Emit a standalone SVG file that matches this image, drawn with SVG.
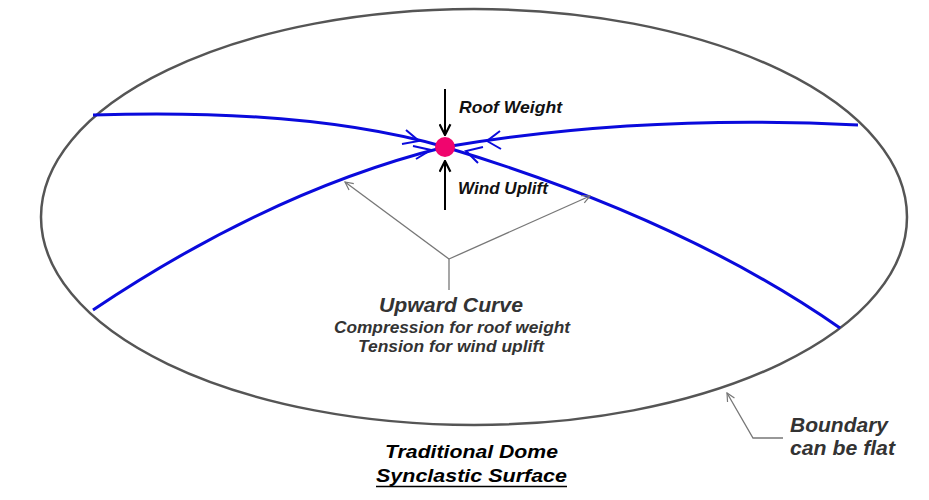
<svg xmlns="http://www.w3.org/2000/svg" width="929" height="500" viewBox="0 0 929 500">
<defs>
<marker id="blk" viewBox="0 0 12 12" refX="11" refY="6" markerWidth="13" markerHeight="13" markerUnits="userSpaceOnUse" orient="auto">
<path d="M1,1 L11,6 L1,11" fill="none" stroke="#000" stroke-width="2"/>
</marker>
<marker id="gry" viewBox="0 0 10 10" refX="9" refY="5" markerWidth="10" markerHeight="10" markerUnits="userSpaceOnUse" orient="auto">
<path d="M1,1 L9,5 L1,9" fill="none" stroke="#777" stroke-width="1.2"/>
</marker>
</defs>
<style>
.bnd{fill:none;stroke:#555;stroke-width:2.5}
.blue{fill:none;stroke:#0a0adc;stroke-width:3}
.chev{fill:none;stroke:#0a0adc;stroke-width:2}
.force{stroke:#000;stroke-width:2;fill:none}
.lead{stroke:#777;stroke-width:1.3;fill:none}
.lbl{font-family:"Liberation Sans",Arial,sans-serif;font-weight:bold;font-style:italic}
</style>
<rect width="929" height="500" fill="#fff"/>
<g id="boundary">
<ellipse class="bnd" cx="474" cy="217" rx="433" ry="208"/>
</g>
<g id="connectors">
<path class="blue" d="M93,115 Q308,108 445,147"/>
<path class="blue" d="M445,147 Q684,219 840,328"/>
<path class="blue" d="M93,310 Q272,190 445,147"/>
<path class="blue" d="M445,147 Q639,114 858,125"/>
<path class="chev" d="M406,130 L419,141 L402,144"/>
<path class="chev" d="M413,146 L431,150 L416,159"/>
<path class="chev" d="M500,131 L487,141 L501,149"/>
<path class="chev" d="M483,147 L466,151 L478,163"/>
<line class="force" x1="445" y1="89" x2="445" y2="135" marker-end="url(#blk)"/>
<line class="force" x1="445" y1="210" x2="445" y2="161" marker-end="url(#blk)"/>
<line class="lead" x1="449" y1="259" x2="345" y2="182" marker-end="url(#gry)"/>
<line class="lead" x1="449" y1="259" x2="590" y2="196" marker-end="url(#gry)"/>
<line class="lead" x1="449" y1="259" x2="449" y2="290"/>
<polyline class="lead" points="783,438 753,438 727,393" marker-end="url(#gry)"/>
</g>
<g id="node">
<circle cx="445" cy="147" r="10" fill="#f0056e"/>
</g>
<g id="labels">
<text class="lbl" x="459" y="113" font-size="16.5" fill="#111" textLength="103" lengthAdjust="spacingAndGlyphs">Roof Weight</text>
<text class="lbl" x="458" y="194" font-size="16.5" fill="#111" textLength="90" lengthAdjust="spacingAndGlyphs">Wind Uplift</text>
<text class="lbl" x="379" y="312" font-size="20" fill="#333" textLength="144" lengthAdjust="spacingAndGlyphs">Upward Curve</text>
<text class="lbl" x="334" y="333" font-size="16" fill="#333" textLength="236" lengthAdjust="spacingAndGlyphs">Compression for roof weight</text>
<text class="lbl" x="358" y="352" font-size="16" fill="#333" textLength="186" lengthAdjust="spacingAndGlyphs">Tension for wind uplift</text>
<text class="lbl" x="790" y="432" font-size="20" fill="#333" textLength="98" lengthAdjust="spacingAndGlyphs">Boundary</text>
<text class="lbl" x="790" y="455" font-size="20" fill="#333" textLength="105" lengthAdjust="spacingAndGlyphs">can be flat</text>
<text class="lbl" x="385" y="458" font-size="19" fill="#000" textLength="173" lengthAdjust="spacingAndGlyphs">Traditional Dome</text>
<text class="lbl" x="376" y="482" font-size="19" fill="#000" textLength="191" lengthAdjust="spacingAndGlyphs">Synclastic Surface</text>
<line x1="376" y1="486.5" x2="567" y2="486.5" stroke="#000" stroke-width="1.3"/>
</g>
</svg>
